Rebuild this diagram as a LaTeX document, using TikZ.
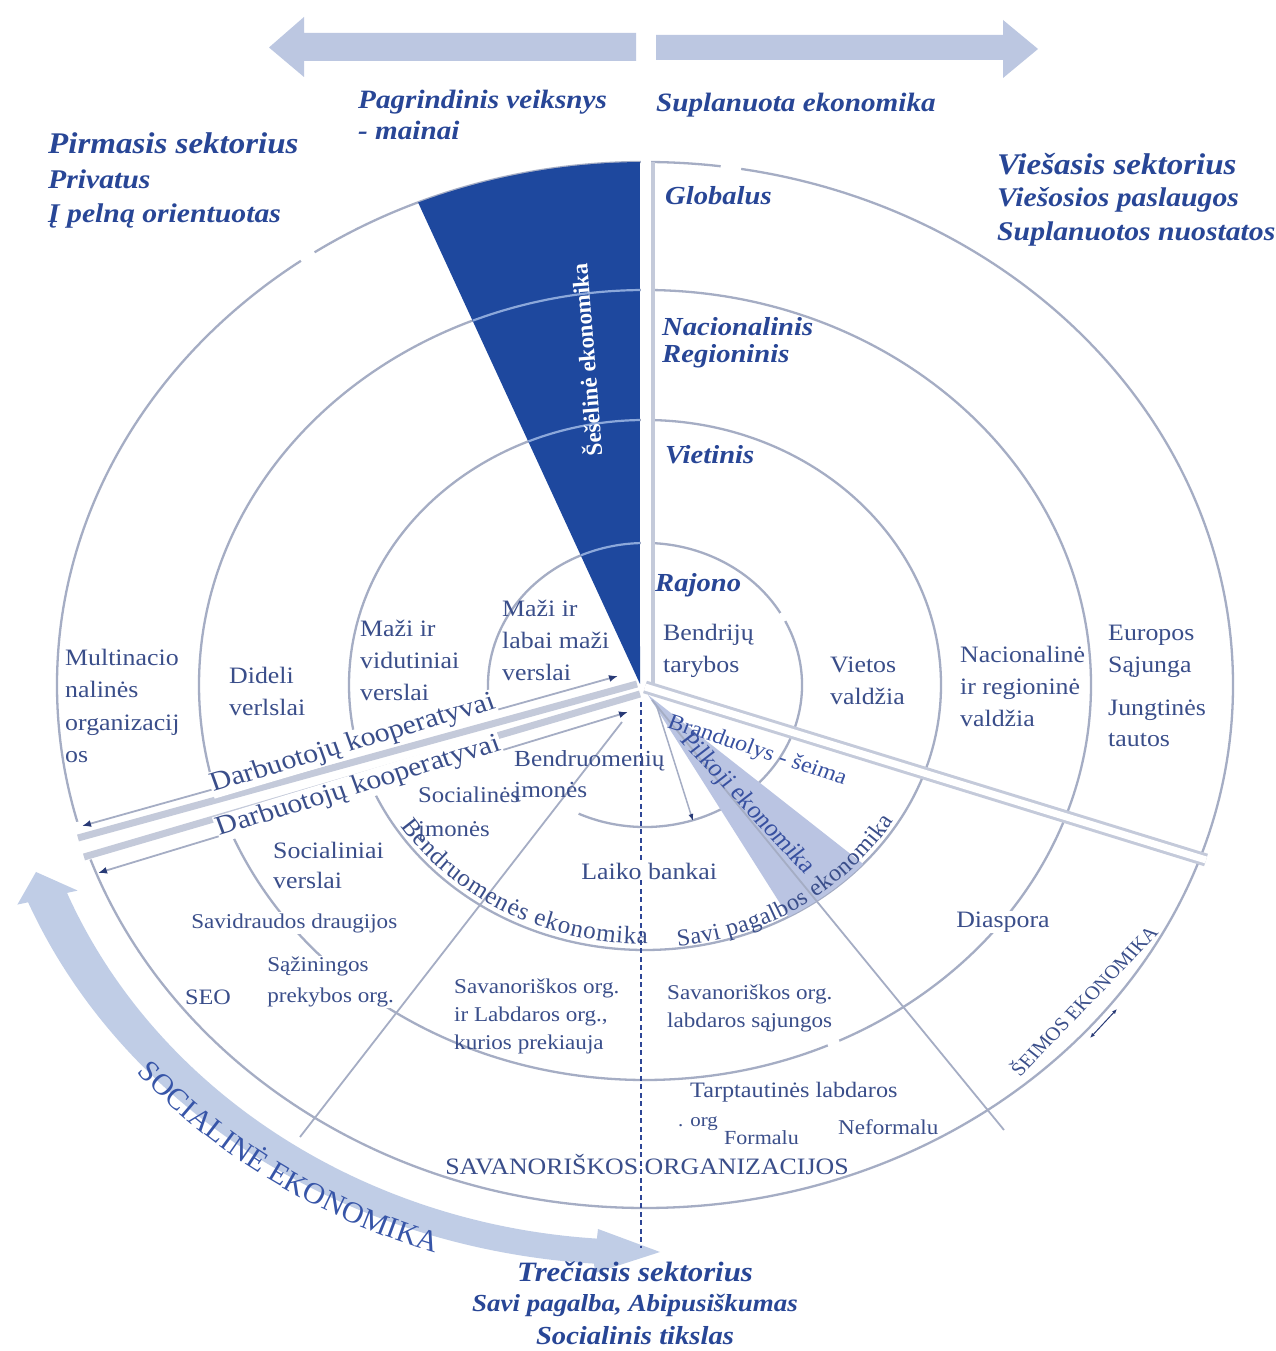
\documentclass[tikz,border=0pt]{standalone}
\usepackage{fontspec}
\setmainfont{Liberation Serif}
\usetikzlibrary{arrows.meta,decorations.text,calc}
\definecolor{ringc}{RGB}{165,173,196}
\definecolor{bandc}{RGB}{196,202,218}
\definecolor{wedgec}{RGB}{30,72,158}
\definecolor{wlight}{RGB}{140,168,218}
\definecolor{grayw}{RGB}{186,196,226}
\definecolor{arrowc}{RGB}{188,199,225}
\definecolor{bigarr}{RGB}{192,205,230}
\definecolor{hc}{RGB}{40,70,150}
\definecolor{bc}{RGB}{58,78,138}
\definecolor{bctwo}{RGB}{55,80,160}
\definecolor{dashc}{RGB}{46,70,150}
\definecolor{tipc}{RGB}{40,58,118}
\definecolor{socc}{RGB}{55,85,168}
\newcommand\hdf[2]{\bfseries\itshape\fontsize{#1}{#2}\selectfont}
\newcommand\bdf[2]{\fontsize{#1}{#2}\selectfont}
\newcommand\curvefontA{\fontsize{30}{30}\selectfont}
\newcommand\curvefontB{\fontsize{25}{25}\selectfont}
\newcommand\curvefontC{\fontsize{24}{24}\selectfont}
\begin{document}
\begin{tikzpicture}[x=1pt,y=1pt,
  ring/.style={draw=ringc,line width=2.3pt},
  gapmark/.style={draw=white,line width=5pt},
  thinarrow/.style={draw=ringc,line width=1.8pt,{Latex[length=9pt,width=7pt,color=tipc]}-{Latex[length=9pt,width=7pt,color=tipc]}},
  txt/.style={text=bc,inner sep=0pt,xscale=1.1,align=left,font=\bdf{23.5}{32}},
  hd/.style={text=hc,inner sep=0pt,xscale=1.1,align=left,font=\hdf{26}{31}},
]
\useasboundingbox (0,0) rectangle (1276,1351);
\fill[white] (0,0) rectangle (1276,1351);
\coordinate (E) at (645,666);
\coordinate (A) at (640,667);
\coordinate (C) at (640,666);

% top arrows
\fill[arrowc] (636,1290) -- (304,1290) -- (304,1274) -- (269,1303.5) -- (304,1334) -- (304,1318) -- (636,1318) -- cycle;
\fill[arrowc] (656,1291) -- (1003,1291) -- (1003,1273) -- (1038,1302) -- (1003,1331) -- (1003,1316) -- (656,1316) -- cycle;

% big curved arrow
\fill[bigarr] (67.0,458.1) -- (77.7,460.4) -- (36,479) -- (17.4,446.4) -- (28.1,448.7)
  arc[start angle=202,end angle=266,x radius=660pt,y radius=580pt]
  -- (595,78) -- (660,99) -- (598,122) -- (596.9,112.4)
  arc[start angle=266,end angle=202,x radius=618pt,y radius=555pt] -- cycle;

% rings
\draw[ring] (E) ellipse[x radius=588pt,y radius=523pt];
\draw[ring] (E) ellipse[x radius=446pt,y radius=395pt];
\draw[ring] (E) ellipse[x radius=296pt,y radius=265pt];
\draw[ring] ($(E)+(245:157pt and 142pt)$) arc[start angle=245,end angle=557,x radius=157pt,y radius=142pt];
% small gaps in the rings
\draw[gapmark] ($(E)+(124.2:588pt and 523pt)$) arc[start angle=124.2,end angle=125.8,x radius=588pt,y radius=523pt];
\draw[gapmark] ($(E)+(80.6:588pt and 523pt)$) arc[start angle=80.6,end angle=82.6,x radius=588pt,y radius=523pt];
\draw[gapmark] ($(E)+(26.8:157pt and 142pt)$) arc[start angle=26.8,end angle=30.4,x radius=157pt,y radius=142pt];
\draw[gapmark] ($(E)+(-65.8:446pt and 395pt)$) arc[start angle=-65.8,end angle=-64.2,x radius=446pt,y radius=395pt];

% dark wedge
\fill[wedgec] (A) -- ($(E)+(112.7:588pt and 523pt)$) arc[start angle=112.7,end angle=90.5,x radius=588pt,y radius=523pt] -- cycle;
\draw[wlight,line width=2.2pt] ($(E)+(114.1:157pt and 142pt)$) arc[start angle=114.1,end angle=91.8,x radius=157pt,y radius=142pt];
\draw[wlight,line width=2.2pt] ($(E)+(113.2:296pt and 265pt)$) arc[start angle=113.2,end angle=91.0,x radius=296pt,y radius=265pt];
\draw[wlight,line width=2.2pt] ($(E)+(112.7:446pt and 395pt)$) arc[start angle=112.7,end angle=90.6,x radius=446pt,y radius=395pt];

% vertical divider
\fill[white] (640.6,667) rectangle (651,1192);
\draw[bandc,line width=3.4pt] (653,667) -- (653,1189);

% left divider group
\fill[white] (70,527) -- (619,681) -- (643,654) -- (82,489) -- cycle;
\draw[bandc,line width=7pt] (78,513) -- (637,667);
\draw[bandc,line width=7pt] (84,494) -- (640,657);
\draw[thinarrow] (82,525) -- (618,675);
\draw[thinarrow] (98,478) -- (628,639);

% right divider
\draw[bandc,line width=3pt,double=white,double distance=7pt] (645,664) -- (1206,491);

% grey wedge, radial lines, dashed line
\fill[grayw] (648,656) -- ($(E)+(-61:296pt and 265pt)$) arc[start angle=-61,end angle=-42.5,x radius=296pt,y radius=265pt] -- cycle;
\draw[ringc,line width=1.8pt] (622,629) -- (300,214);
\draw[ringc,line width=1.8pt] (652,651) -- (1004,221);
\draw[ringc,line width=1.5pt,-{Latex[length=7pt,width=5pt,color=tipc]}] (657,644) -- (693,530);
\draw[dashc,line width=2.6pt,dash pattern=on 5pt off 3.5pt] (641,649) -- (641,103);
\draw[tipc,line width=1pt,{Latex[length=5pt,width=4pt]}-{Latex[length=5pt,width=4pt]}] (1090,313) -- (1117,342);

% headings
\node[hd,anchor=west,font=\hdf{26.5}{31}] (pag) at (358,1236) {Pagrindinis veiksnys\\- mainai};
\node[hd,anchor=west,font=\hdf{26.5}{31}] (supl) at (656,1246) {Suplanuota ekonomika};
\node[hd,anchor=west,font=\hdf{30}{34}] (pirm) at (48,1208) {Pirmasis sektorius};
\node[hd,anchor=west,font=\hdf{27}{34}] (priv) at (48,1152) {Privatus\\Į pelną orientuotas};
\node[hd,anchor=west,font=\hdf{30}{34}] (vies) at (997,1187) {Viešasis sektorius};
\node[hd,anchor=west,font=\hdf{27}{34}] (viestwo) at (997,1134) {Viešosios paslaugos\\Suplanuotos nuostatos};
\node[hd,anchor=west] (glob) at (665,1155) {Globalus};
\node[hd,anchor=west,font=\hdf{26}{27}] (nac) at (662,1008) {Nacionalinis\\Regioninis};
\node[hd,anchor=west] (viet) at (665,896) {Vietinis};
\node[hd,anchor=west] (raj) at (655,766) {Rajono};
\node[hd,font=\hdf{28}{30}] (trec) at (635,79) {Trečiasis sektorius};
\node[hd,font=\hdf{24.5}{30}] (savip) at (635,46) {Savi pagalba, Abipusiškumas};
\node[hd,font=\hdf{26}{30}] (soct) at (635,15) {Socialinis tikslas};

% body texts
\node[txt,anchor=west] (bendr) at (663,700) {Bendrijų\\tarybos};
\node[txt,anchor=west] (vietos) at (830,670) {Vietos\\valdžia};
\node[txt,anchor=west] (nacv) at (960,665) {Nacionalinė\\ir regioninė\\valdžia};
\node[txt,anchor=west] (eur) at (1108,700) {Europos\\Sąjunga};
\node[txt,anchor=west,font=\bdf{23.5}{31}] (jung) at (1108,628) {Jungtinės\\tautos};
\node[txt,anchor=west,font=\bdf{23.5}{32.5}] (multi) at (65,645) {Multinacio\\nalinės\\organizacij\\os};
\node[txt,anchor=west] (did) at (229,660) {Dideli\\verlslai};
\node[txt,anchor=west] (mvid) at (360,691) {Maži ir\\vidutiniai\\verslai};
\node[txt,anchor=west] (mlab) at (502,711) {Maži ir\\labai maži\\verslai};
\node[txt,anchor=west,font=\bdf{23}{31}] (bim) at (514,575) {Bendruomenių\\įmonės};
\node[txt,anchor=west,font=\bdf{22.5}{34}] (sim) at (418,537) {Socialinės\\įmonės};
\node[txt,anchor=west,font=\bdf{23.5}{30}] (sv) at (273,486) {Socialiniai\\verslai};
\node[txt,anchor=west,fill=white,inner sep=1pt] (laiko) at (580,480) {Laiko bankai};
\node[txt,anchor=west,fill=white,inner sep=1pt,font=\bdf{21}{28}] (savd) at (190,428) {Savidraudos draugijos};
\node[txt,anchor=west,fill=white,inner sep=1pt,font=\bdf{21}{31}] (saz) at (266,369) {Sąžiningos\\prekybos org.};
\node[txt,anchor=west,font=\bdf{22}{28}] (seo) at (185,354) {SEO};
\node[txt,anchor=west,font=\bdf{21}{28}] (savoa) at (454,335) {Savanoriškos org.\\ir Labdaros org.,\\kurios prekiauja};
\node[txt,anchor=west,font=\bdf{21}{28}] (savob) at (667,343) {Savanoriškos org.\\labdaros sąjungos};
\node[txt,anchor=west,fill=white,inner sep=1pt] (diasp) at (955,429) {Diaspora};
\node[txt,anchor=west,font=\bdf{22}{28}] (tarpt) at (690,259) {Tarptautinės labdaros};
\node[txt,anchor=west,font=\bdf{19}{24}] (org) at (678,227) {. org};
\node[txt,anchor=west,font=\bdf{20}{24}] (formal) at (724,213) {Formalu};
\node[txt,anchor=west,font=\bdf{21}{24}] (neform) at (838,224) {Neformalu};
\node[txt] (savorg) at (647,186) {SAVANORIŠKOS ORGANIZACIJOS};

% rotated texts
\node[txt,anchor=base,fill=white,inner sep=1pt,font=\bdf{27}{30},rotate=18] (darba) at (355,601) {Darbuotojų kooperatyvai};
\node[txt,anchor=base,fill=white,inner sep=1pt,font=\bdf{27}{30},rotate=18.5] (darbb) at (361,558) {Darbuotojų kooperatyvai};
\node[txt,text=bctwo,font=\bdf{22}{24},rotate=-19.7] (brand) at (757,600) {Branduolys - šeima};
\node[txt,text=bctwo,font=\bdf{24}{26},rotate=-49.7] (pilk) at (747,547) {Pilkoji ekonomika};
\node[txt,font=\bdf{19}{22},rotate=48.7] (seim) at (1083,351) {ŠEIMOS EKONOMIKA};
\node[text=white,inner sep=0pt,font=\bfseries\bdf{23}{25},rotate=94.5] (sesel) at (585,991) {Šešėlinė ekonomika};

% curved texts
\path[decorate,decoration={text along path,text align=fit to path,text color=socc,text={|\curvefontA|SOCIALINĖ EKONOMIKA}}]
  ($(C)+(220.5:662pt and 597pt)$) arc[start angle=220.5,end angle=252,x radius=662pt,y radius=597pt];
\path[decorate,decoration={text along path,text align=fit to path,text color=bc,text={|\curvefontB|Bendruomenės ekonomika}}]
  ($(E)+(213:291pt and 259pt)$) arc[start angle=213,end angle=270.5,x radius=291pt,y radius=259pt];
\path[decorate,decoration={text along path,text align=fit to path,text color=bc,text={|\curvefontC|Savi pagalbos ekonomika}}]
  ($(E)+(-83.5:290pt and 263pt)$) arc[start angle=-83.5,end angle=-31,x radius=290pt,y radius=263pt];
\end{tikzpicture}
\end{document}
